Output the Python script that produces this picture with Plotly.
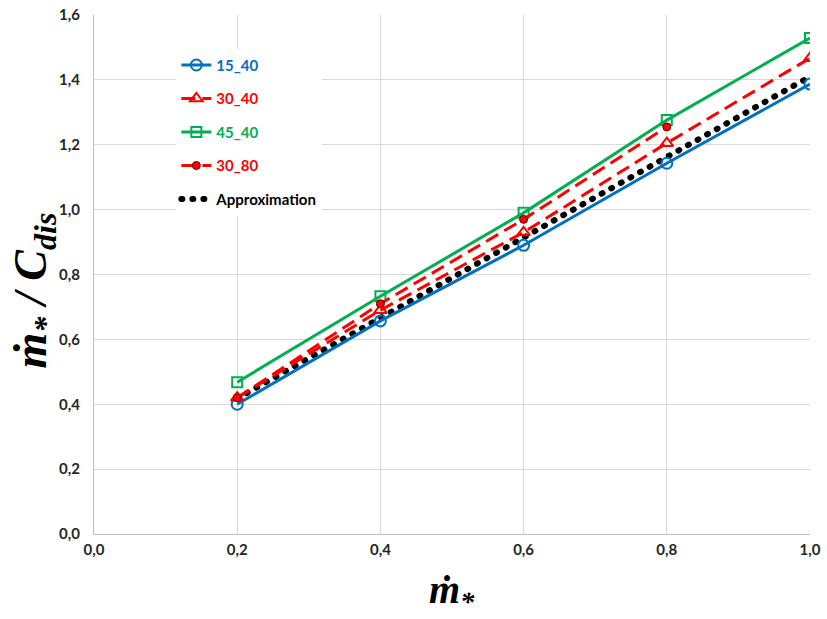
import plotly.graph_objects as go

x_vals = [0.2, 0.4, 0.6, 0.8, 1.0]
x_30_80 = [0.2, 0.4, 0.6, 0.8]
s15_40 = [0.40, 0.657, 0.89, 1.143, 1.387]
s30_40 = [0.42, 0.69, 0.93, 1.205, 1.467]
s45_40 = [0.468, 0.733, 0.99, 1.276, 1.529]
s30_80 = [0.42, 0.71, 0.97, 1.255]
approx = [0.418, 0.666, 0.914, 1.162, 1.41]

BLUE = "#0070C0"
RED = "#FF0000"
GREEN = "#00B050"

fig = go.Figure()
fig.add_trace(go.Scatter(
    x=x_vals, y=approx, mode="lines",
    name="<span style='color:#000000'>Approximation</span>",
    line=dict(color="black", width=6, dash="1px,10px"),
    legendgroup="e", legendrank=5))
fig.add_trace(go.Scatter(
    x=x_vals, y=s15_40, mode="lines+markers",
    name=f"<span style='color:{BLUE}'>15_40</span>",
    line=dict(color=BLUE, width=3),
    marker=dict(symbol="circle-open", size=11, color=BLUE, line=dict(width=2)),
    legendgroup="a", legendrank=1))
fig.add_trace(go.Scatter(
    x=x_vals, y=s30_40, mode="lines+markers",
    name=f"<span style='color:{RED}'>30_40</span>",
    line=dict(color=RED, width=3, dash="14px,7px"),
    marker=dict(symbol="triangle-up-open", size=11, color=RED, line=dict(width=2)),
    legendgroup="b", legendrank=2))
fig.add_trace(go.Scatter(
    x=x_vals, y=s45_40, mode="lines+markers",
    name=f"<span style='color:{GREEN}'>45_40</span>",
    line=dict(color=GREEN, width=3),
    marker=dict(symbol="square-open", size=10, color=GREEN, line=dict(width=2)),
    legendgroup="c", legendrank=3))
fig.add_trace(go.Scatter(
    x=x_30_80, y=s30_80, mode="lines+markers",
    name=f"<span style='color:{RED}'>30_80</span>",
    line=dict(color=RED, width=3, dash="14px,7px"),
    marker=dict(symbol="circle", size=8, color=RED, line=dict(width=1, color="#600000")),
    legendgroup="d", legendrank=4))

tickfont = dict(family="Lato", size=15, color="#262626", weight="bold")
fig.update_layout(
    width=827, height=619,
    margin=dict(l=94, r=17, t=15, b=85),
    paper_bgcolor="white", plot_bgcolor="white",
    separators=", ",
    showlegend=True,
    legend=dict(x=0.115, y=0.935, xanchor="left", yanchor="top",
                bgcolor="white", traceorder="grouped", tracegroupgap=11,
                font=dict(family="Lato", size=15, color="black", weight="bold"),
                itemwidth=30),
    xaxis=dict(range=[0, 1.0], dtick=0.2, tickformat=".1f",
               showgrid=True, gridcolor="#D9D9D9", gridwidth=1,
               zeroline=False, showline=True, linecolor="#BFBFBF",
               ticks="", tickfont=tickfont, ticklabelstandoff=2,
               ticklabeloverflow="allow", automargin=False),
    yaxis=dict(range=[0, 1.6], dtick=0.2, tickformat=".1f",
               showgrid=True, gridcolor="#D9D9D9", gridwidth=1,
               zeroline=False, showline=True, linecolor="#BFBFBF",
               ticks="", tickfont=tickfont, ticklabelstandoff=10,
               ticklabeloverflow="allow", automargin=False),
    annotations=[
        dict(text="<b><i>ṁ<sub>*</sub></i></b>", xref="paper", yref="paper",
             x=0.5, y=-0.06, xanchor="center", yanchor="top", showarrow=False,
             font=dict(family="Liberation Serif", size=40, color="black")),
        dict(text="<b><i>ṁ<sub>*</sub> / C<sub>dis</sub></i></b>", xref="paper", yref="paper",
             x=-0.04, y=0.47, xanchor="right", yanchor="middle", showarrow=False,
             textangle=-90,
             font=dict(family="Liberation Serif", size=46, color="black")),
    ],
)

post = """
document.body.style.margin = '0';
document.body.style.overflow = 'hidden';
document.querySelectorAll('path').forEach(function(p){
  var d = p.style.strokeDasharray || '';
  if (d.indexOf('1px') === 0 || d.indexOf('1, 10') === 0) {
    p.style.strokeLinecap = 'round';
  }
});
"""
fig.write_html("out.html", post_script=post, config={"displayModeBar": False})
